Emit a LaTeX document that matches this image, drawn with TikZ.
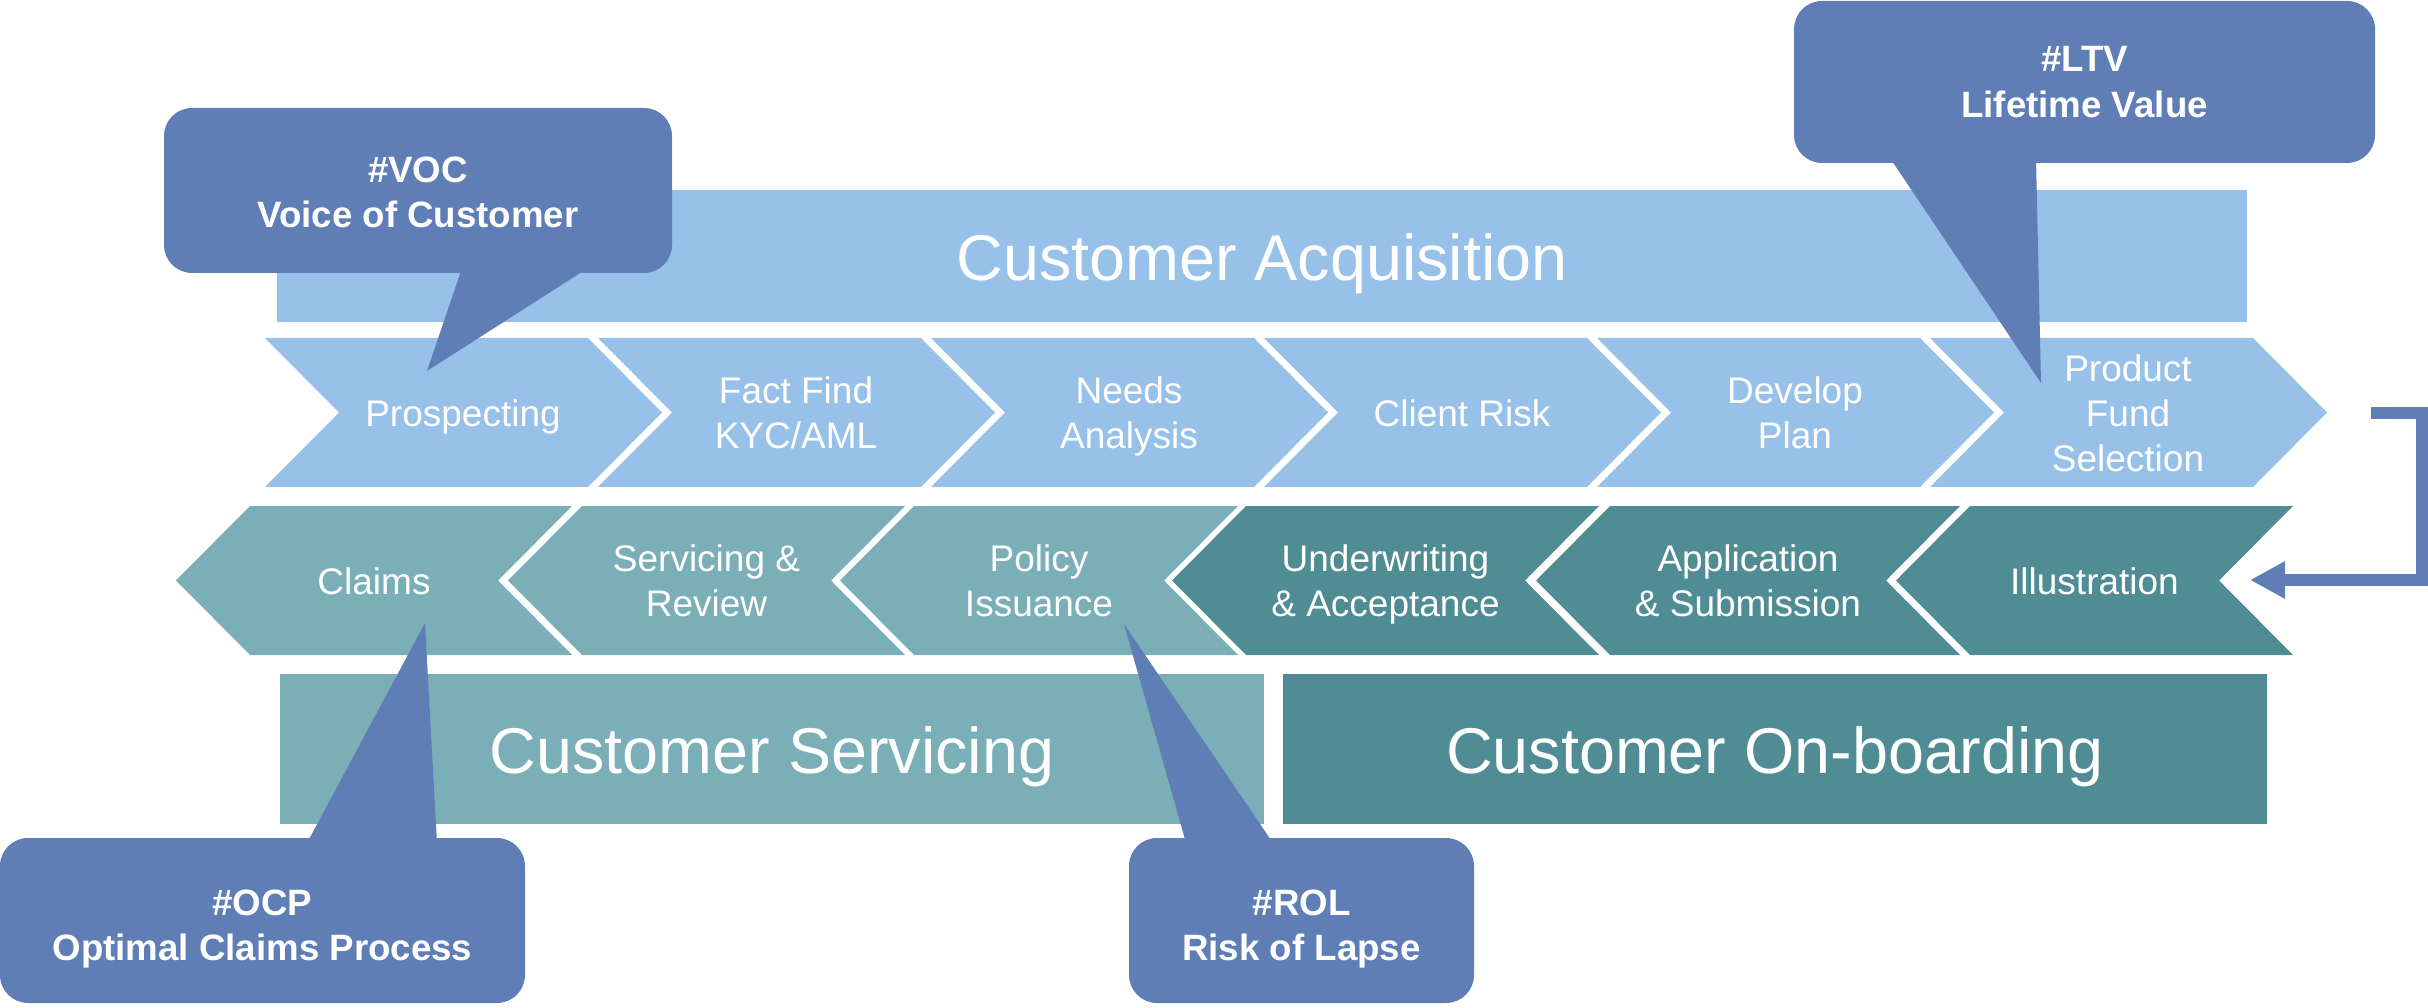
\documentclass[tikz,border=0pt]{standalone}
\usepackage{fontspec}
\setmainfont{Liberation Sans}
\usetikzlibrary{arrows.meta}
\definecolor{lblue}{HTML}{97C1E8}
\definecolor{lteal}{HTML}{7AAFB7}
\definecolor{dteal}{HTML}{508C94}
\definecolor{callc}{HTML}{5F7EB5}
\tikzset{
  lbl/.style={text=white, align=center, inner sep=0pt, text depth=0pt, font=\fontsize{11.1bp}{13.5bp}\selectfont},
  onel/.style={lbl},
  bandtxt/.style={text=white, inner sep=0pt, text depth=0pt, font=\fontsize{19.4bp}{23bp}\selectfont},
  calltxt/.style={text=white, align=center, inner sep=0pt, text depth=0pt, font=\bfseries\fontsize{11bp}{13.6bp}\selectfont},
  callbox/.style={fill=callc, rounded corners=8.4bp},
  flowarrow/.style={draw=callc, line width=3.6bp, -{Triangle[length=10.5bp,width=10.5bp]}}
}
\newcommand{\chevRight}[2]{%
  \fill[#2] (#1,338) -- ++(323,0) -- ++(74,74.5) -- ++(-74,74.5) -- ++(-323,0) -- ++(74,-74.5) -- cycle;}
\newcommand{\chevLeft}[3]{%
  \pgfmathsetmacro{\chtl}{#1+74}%
  \fill[#3] (#1,580.5) -- (\chtl,506) -- (#2,506) -- ++(-74,74.5) -- ++(74,74.5) -- (\chtl,655) -- cycle;}
\begin{document}
\begin{tikzpicture}[x=0.3bp,y=-0.3bp]
\useasboundingbox (0,0) rectangle (2428,1008);
% bands
\fill[lblue] (277,190) rectangle (2247,322);
\node[bandtxt] (acq) at (1262,257) {Customer Acquisition};
\fill[lteal] (280,674) rectangle (1264,824);
\node[bandtxt] (serv) at (772,750) {Customer Servicing};
\fill[dteal] (1283,674) rectangle (2267,824);
\node[bandtxt] (onb) at (1775,750) {Customer On-boarding};
% row 1
\chevRight{265}{lblue}
\chevRight{598}{lblue}
\chevRight{931}{lblue}
\chevRight{1264}{lblue}
\chevRight{1597}{lblue}
\chevRight{1930}{lblue}
\node[onel] (c1) at (463,413) {Prospecting};
\node[lbl] (c2) at (796,413) {Fact Find\\KYC/AML};
\node[lbl] (c3) at (1129,413) {Needs\\Analysis};
\node[onel] (c4) at (1462,413) {Client Risk};
\node[lbl] (c5) at (1795,413) {Develop\\Plan};
\node[lbl] (c6) at (2128,413) {Product\\Fund\\Selection};
% row 2
\chevLeft{176}{572}{lteal}
\chevLeft{508}{905}{lteal}
\chevLeft{840}{1238}{lteal}
\chevLeft{1172}{1599}{dteal}
\chevLeft{1536}{1960}{dteal}
\chevLeft{1896}{2293}{dteal}
\node[onel] (d1) at (374,581) {Claims};
\node[lbl] (d2) at (706.5,581) {Servicing \&\\Review};
\node[lbl] (d3) at (1039,581) {Policy\\Issuance};
\node[lbl] (d4) at (1385.5,581) {Underwriting\\\& Acceptance};
\node[lbl] (d5) at (1748,581) {Application\\\& Submission};
\node[onel] (d6) at (2094.5,581) {Illustration};
% arrow
\coordinate (arrS) at (2371,413);
\coordinate (arrC1) at (2422,413);
\coordinate (arrC2) at (2422,580);
\coordinate (arrE) at (2250,580);
\draw[flowarrow] (arrS) -- (arrC1) -- (arrC2) -- (arrE);
% callouts
\fill[callbox] (164,108) rectangle (672,273);
\fill[callc] (462,268) -- (588,268) -- (427,371) -- cycle;
\node[calltxt] (voc) at (418,192) {\#VOC\\Voice of Customer};
\fill[callbox] (1794,1) rectangle (2375,163);
\fill[callc] (1890,158) -- (2036,158) -- (2041,383) -- cycle;
\node[calltxt] (ltv) at (2084.5,82) {\#LTV\\Lifetime Value};
\fill[callbox] (0,838) rectangle (525,1003);
\fill[callc] (307,843) -- (437,843) -- (425,623) -- cycle;
\node[calltxt] (ocp) at (262.5,925) {\#OCP\\Optimal Claims Process};
\fill[callbox] (1129,838) rectangle (1474,1003);
\fill[callc] (1186,843) -- (1273,843) -- (1124,624) -- cycle;
\node[calltxt] (rol) at (1301.5,925) {\#ROL\\Risk of Lapse};
\end{tikzpicture}
\end{document}
